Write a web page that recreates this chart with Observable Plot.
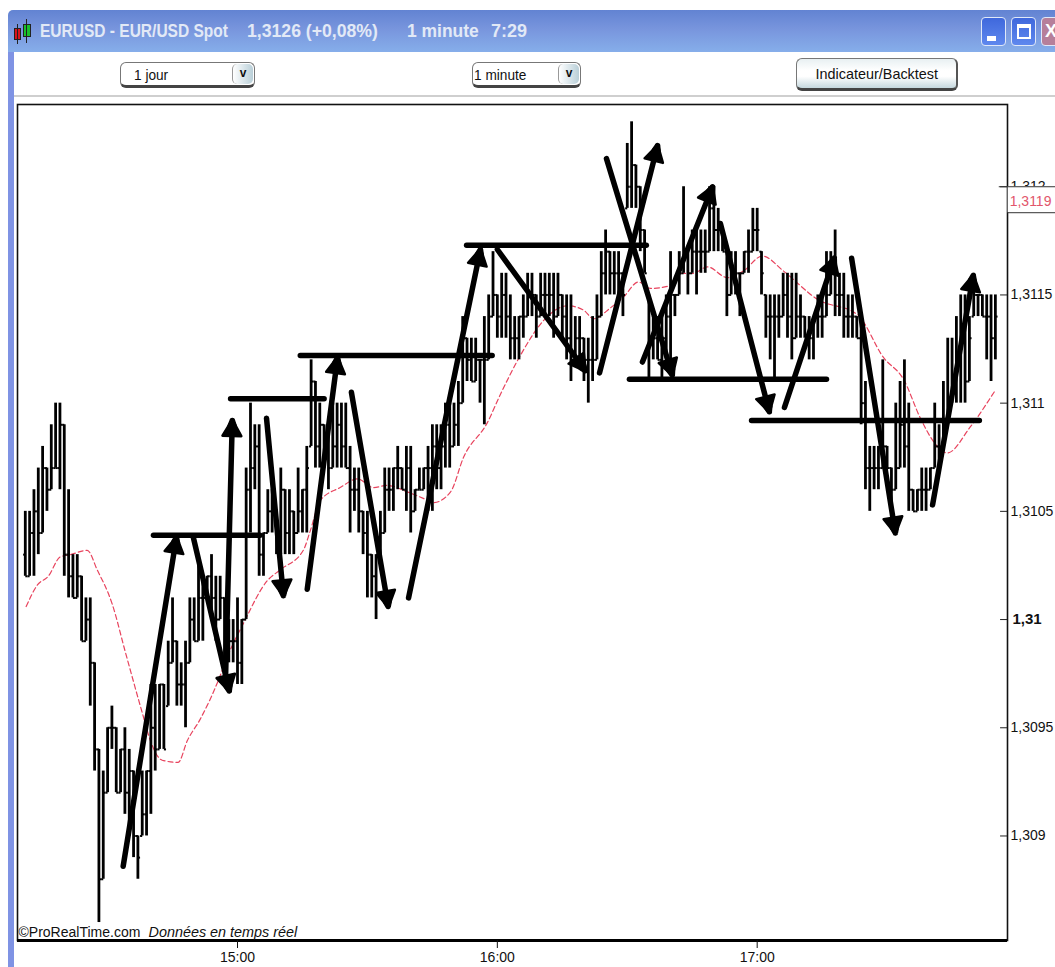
<!DOCTYPE html>
<html><head><meta charset="utf-8">
<script src="https://cdn.jsdelivr.net/npm/d3@7"></script>
<script src="https://cdn.jsdelivr.net/npm/@observablehq/plot@0.6"></script>
<style>
html,body{margin:0;padding:0;background:#fff;width:1055px;height:967px;overflow:hidden;font-family:"Liberation Sans",Arial,sans-serif}
#chrome{position:relative;height:96px;width:1055px}
.abs{position:absolute;box-sizing:border-box}
#strip{position:absolute;left:8px;top:52px;width:6px;height:915px;background:#7f93e4}
#title{left:8px;top:10px;width:1047px;height:42px;background:linear-gradient(#6283d2,#7895dd 45%,#86aeea);border-radius:5px 0 0 0}
.tt{position:absolute;top:11px;color:#e2e9f6;font:bold 18px "Liberation Sans",sans-serif;white-space:pre;transform:scaleX(.862);transform-origin:0 50%}
.wb{top:17px;height:29px;border-radius:4px;border:1px solid #dfe8f8;background:linear-gradient(#3f68dc,#5f88ee)}
.sel{top:62px;height:26px;border:1px solid #777;border-bottom:3px solid #444;border-radius:6px;background:#fff;font:15px "Liberation Sans",sans-serif;line-height:23px;color:#111}
.sel i,#btn i{font-style:normal;display:inline-block;transform:scaleX(.91);transform-origin:0 50%}
#btn i{transform:scaleX(.96);transform-origin:50% 50%}
.dd{position:absolute;right:1px;top:1px;bottom:1px;width:20px;border-radius:5px;background:linear-gradient(90deg,#fff,#b9cfd8);border-left:1px solid #999;text-align:center;font:bold 12px "Liberation Sans",sans-serif;line-height:19px}
#btn{left:796px;top:58px;width:162px;height:33px;border:1px solid #777;border-bottom:3px solid #444;border-right:2px solid #555;border-radius:6px;background:linear-gradient(#e8f0f2,#fff 40%,#fff 60%,#c5d8de);text-align:center;font:15px "Liberation Sans",sans-serif;line-height:29px;color:#111}
#sep{left:14px;top:95px;width:1041px;height:2px;background:#cfcfcf}
#chart{position:relative;width:1055px;height:871px}
#chart svg{display:block;background:transparent!important}
</style></head><body>
<div id="strip"></div>
<div id="chrome">
  <div class="abs" id="title">
    <span class="tt" style="left:32px">EURUSD - EUR/USD Spot</span>
    <span class="tt" style="left:239px;transform:scaleX(.98)">1,3126 (+0,08%)</span>
    <span class="tt" style="left:399px;transform:scaleX(.97)">1 minute</span>
    <span class="tt" style="left:483px;transform:scaleX(1)">7:29</span>
  </div>
  <div class="abs" style="left:14px;top:28px;width:7px;height:12px;background:#d8141c;border:1px solid #222"></div>
  <div class="abs" style="left:17px;top:24px;width:1px;height:20px;background:#222"></div>
  <div class="abs" style="left:23px;top:24px;width:8px;height:13px;background:#19c02a;border:1px solid #222"></div>
  <div class="abs" style="left:26px;top:19px;width:1px;height:24px;background:#222"></div>
  <div class="abs wb" style="left:981px;width:25px"><div class="abs" style="left:5px;bottom:4px;width:9px;height:5px;background:#fff"></div></div>
  <div class="abs wb" style="left:1011px;width:25px"><div class="abs" style="left:5px;top:6px;width:14px;height:15px;border:2px solid #fff;border-top-width:4px"></div></div>
  <div class="abs wb" style="left:1041px;width:20px;background:#b67f9a;color:#fff;font:bold 18px 'Liberation Sans',sans-serif;padding-left:3px;line-height:26px">X</div>
  <div class="abs sel" style="left:120px;width:135px;padding-left:13px"><i>1 jour</i><span class="dd">v</span></div>
  <div class="abs sel" style="left:472px;width:109px;padding-left:1px"><i>1 minute</i><span class="dd">v</span></div>
  <div class="abs" id="btn"><i>Indicateur/Backtest</i></div>
  <div class="abs" id="sep"></div>
</div>
<div id="chart"></div>
<script>
// Prices are read as pips from this base. Bars are one minute apart; minutes count from 15:00.
const basePrice = 1.31;
const firstMinute = -49;
const highs = [5,5,6,7,8,7,9,10,10,9, 6,3,3,2,1,1,-2,-6,-7,-5, -4,-5,-6,-5,-6,-7,-10,-7,-7,-3, -3,-3,-3,-1,1,-1,-2,-1,1,1,
 3,2,2,3,2,2,1,0,0,1, 0,7,10,9,9,4,6,6,5,7, 6,6,5,7,6,8,12,11,10,9, 9,10,10,10,10,8,7,7,5,5,
 3,3,5,7,7,7,8,7,8,8, 6,7,7,8,9,9,9,10,10,10, 11,14,13,13,13,12,14,15,17,15, 16,16,15,14,14,15,16,16,15,16,
 16,16,16,16,15,15,15,14,14,13, 13,14,15,17,18,17,17,17,16,22, 23,21,20,18,15,14,14,14,15,17, 15,17,20,17,18,18,18,18,20,20,
 19,18,17,17,17,16,17,18,19,19, 17,15,15,15,15,16,16,16,16,15, 14,14,14,15,15,17,17,18,16,16, 15,15,14,14,11,8,8,8,12,8,
 7,10,11,12,10,6,6,7,7,7, 10,9,11,13,13,14,15,15,14,16, 15,15,15,15,15];
const lows = [2,2,2,3,4,5,6,7,6,2, 1,1,1,-1,-1,-4,-7,-14,-12,-8, -6,-8,-8,-9,-10,-11,-12,-10,-10,-9, -7,-6,-6,-4,-2,-4,-4,-5,-2,-1,
 -1,-1,1,0,-1,0,-2,-2,-2,-3, -3,0,4,6,2,2,4,4,3,3, 3,3,3,4,4,4,8,7,7,7, 6,7,7,7,7,4,5,4,3,1,
 1,0,3,4,5,5,6,6,5,4, 5,6,6,5,5,6,6,7,7,8, 8,10,11,11,11,10,9,12,14,13, 13,13,12,12,12,13,14,14,13,14,
 14,14,13,14,13,12,11,12,12,11, 10,11,12,14,15,15,15,15,14,19, 19,19,17,16,11,12,12,11,12,12, 14,15,16,15,16,15,16,16,17,17,
 17,17,14,15,15,14,16,16,17,17, 15,13,12,11,13,14,13,12,13,13, 13,12,12,13,13,14,15,14,14,13, 13,13,13,9,6,5,6,6,7,7,
 5,6,7,7,5,5,5,5,5,6, 7,7,8,9,10,10,10,10,11,14, 14,14,12,11,12];
const opens = [3,2,4,5,4,7,6,7,7,9, 3,2,1,2,-1,0,-2,-6,-12,-8, -5,-5,-8,-6,-8,-7,-10,-10,-9,-7, -5,-6,-3,-4,-2,-1,-3,-3,-2,0,
 -1,1,1,2,1,0,1,-1,-1,-1, -2,0,6,7,8,3,4,5,5,4, 6,4,5,4,5,6,8,11,8,9, 8,7,8,9,8,7,6,6,5,4,
 3,2,3,4,6,6,7,7,6,7, 5,6,6,7,7,8,7,8,9,8, 9,10,13,12,11,12,12,12,14,15, 14,15,14,13,13,14,14,15,15,14,
 15,15,15,14,15,14,13,12,13,13, 12,12,12,14,16,17,16,16,16,19, 20,21,20,18,15,13,13,12,13,14, 15,15,16,17,16,17,17,17,17,19,
 18,18,17,15,16,16,16,17,17,18, 17,15,14,14,14,14,15,14,13,14, 14,13,13,14,14,14,15,16,15,15, 14,14,14,13,10,7,7,7,7,8,
 7,6,7,9,8,6,5,6,6,6, 7,8,8,9,10,11,12,13,11,14, 15,15,14,14,13];
const closes = [2,4,5,4,7,6,7,7,9,3, 2,1,2,-1,0,-2,-6,-12,-8,-5, -5,-8,-6,-8,-7,-10,-11,-9,-7,-5, -6,-3,-6,-2,-1,-3,-3,-2,0,-1,
 1,1,2,1,0,1,-1,-1,-1,-2, 0,6,7,8,3,4,5,5,4,6, 4,5,4,5,6,7,11,8,9,8, 7,8,9,8,7,6,6,5,4,3,
 2,3,4,6,6,7,7,6,7,5, 6,6,7,7,8,7,8,9,8,9, 10,13,12,11,12,12,12,14,15,14, 15,14,13,13,14,14,15,15,14,15,
 15,15,14,15,14,13,12,13,13,12, 12,12,14,16,17,16,16,16,15,20, 21,20,18,16,13,13,12,13,14,15, 15,16,17,16,17,17,17,17,19,18,
 18,17,15,16,16,16,17,17,18,18, 16,14,14,14,14,15,14,13,14,14, 13,13,14,14,14,15,16,15,15,14, 14,14,13,10,7,7,7,7,8,7,
 6,7,9,8,6,5,6,6,6,7, 8,8,9,10,11,12,13,11,13,15, 15,14,14,13,14];

const maMinutes = [-48.8,-46.2,-43.7,-40.9,-38.6,-34.7,-32.4,-28.9,-25.9,-22,-20.1,-17.4,-13.7,-11.6,-8.6,-4.4,-2.3,1.3,6.9,9.9,15.2,16.8,19.1,23.7,27.7,31.4,34.6,39.2,42.9,45.2,49.2,52.2,57.7,60.7,65.3,70.6,76.2,79.9,82.2,86.1,89.1,92.6,95.3,99.3,102.3,105.3,108.5,113.1,116.8,121.2,126.1,133.9,143.1,149.2,153.8,157.7,161.2,163.9,169.2,175];
const maPrices = [1.31006,1.31016,1.3102,1.31029,1.3103,1.31032,1.31023,1.31007,1.30985,1.30957,1.30944,1.30935,1.30934,1.30944,1.30954,1.30972,1.30983,1.30998,1.31018,1.31023,1.31032,1.31041,1.31055,1.31061,1.31065,1.31061,1.31062,1.31059,1.31056,1.31054,1.31059,1.31075,1.31091,1.31104,1.31122,1.31138,1.31145,1.31143,1.31139,1.31144,1.31149,1.31156,1.31153,1.31154,1.3116,1.3116,1.31163,1.31158,1.31161,1.31168,1.31161,1.31148,1.31141,1.31121,1.31111,1.31093,1.31081,1.31077,1.31089,1.31106];

const arrowX1 = [-26.4,-10.2,-2.8,6.7,16.1,26.3,39.5,60,83.6,85.2,93.5,111.5,126.3,141.8,160.5];
const arrowY1 = [1.30886,1.31038,1.3097,1.31093,1.31014,1.31105,1.3101,1.31171,1.31114,1.31213,1.31119,1.31183,1.31098,1.31167,1.31053];
const arrowX2 = [-14.1,-1.9,-1.2,10.6,23.1,34.8,56.1,80.3,97,100.4,109.7,122.8,137.8,151.9,169.9];
const arrowY2 = [1.31038,1.30967,1.31092,1.31011,1.31121,1.31006,1.31171,1.31115,1.31219,1.31113,1.312,1.31096,1.31167,1.3104,1.31159];

const levelX1 = [-19.4,-1.6,14.5,52.9,90.5,118.7];
const levelX2 = [5.2,20,58.8,94.4,136,171.3];
const levelY = [1.31039,1.31102,1.31122,1.31173,1.31111,1.31092];

const priceTicks = [1.309,1.3095,1.3105,1.311,1.3115,1.312];
const boldTicks = [1.31];
const timeTicks = [0,60,120];
const timeLabels = ["15:00","16:00","17:00"];
const lastPrice = "1,3119";

const xDomain = [-50.8,177.8], yDomain = [1.308517,1.31238];
const pxX = 990/(xDomain[1]-xDomain[0]), pxY = 836/(yDomain[1]-yDomain[0]); // pixels per unit, used to aim the arrow heads

const bars = highs.map((h,i)=>({m:firstMinute+i,h:basePrice+h/1e4,l:basePrice+lows[i]/1e4,o:basePrice+opens[i]/1e4,c:basePrice+closes[i]/1e4}));
const ma = maMinutes.map((m,i)=>({m,p:maPrices[i]}));
const arrows = arrowX1.map((x,i)=>{
  const x2=arrowX2[i],y1=arrowY1[i],y2=arrowY2[i];
  const dx=(x2-x)*pxX, dy=-(y2-y1)*pxY, len=Math.hypot(dx,dy), back=10/len;
  return {x1:x,y1,x2,y2,hx:x2-(x2-x)*back,hy:y2-(y2-y1)*back,angle:Math.atan2(dx,-dy)*180/Math.PI};
});
const levels = levelX1.map((x,i)=>({x1:x,x2:levelX2[i],y:levelY[i]}));
const comma = d=>String(+d.toFixed(4)).replace(".",",");
const ink = "#000";

const plot = Plot.plot({
  width:1055,height:871,
  marginLeft:17,marginRight:48,marginTop:8,marginBottom:27,
  style:{fontFamily:'"Liberation Sans",Arial,sans-serif',fontSize:"14px",color:"#111",background:"transparent",overflow:"visible"},
  x:{domain:xDomain,label:null},
  y:{domain:yDomain,label:null},
  marks:[
    Plot.frame({stroke:"#111",strokeWidth:1.6}),
    Plot.ruleY([yDomain[0]],{x1:xDomain[0],x2:xDomain[1],stroke:"#000",strokeWidth:3}),
    Plot.axisX({ticks:timeTicks,tickFormat:(d,i)=>timeLabels[timeTicks.indexOf(d)],tickSize:8,tickPadding:4,label:null,fontSize:14}),
    Plot.axisY({anchor:"right",ticks:priceTicks,tickFormat:comma,tickSize:0,tickPadding:3,label:null,fontSize:14}),
    Plot.axisY({anchor:"right",ticks:boldTicks,tickFormat:comma,tickSize:0,tickPadding:5,label:null,fontSize:15,fontWeight:"bold"}),
    Plot.ruleY(priceTicks.concat(boldTicks),{x1:176.2,x2:177.8,stroke:"#222"}),
    // price tag that hides the lower part of the 1,312 label
    Plot.rect([{x1:177.95,x2:189.5,y1:1.31188,y2:1.312}],{x1:"x1",x2:"x2",y1:"y1",y2:"y2",fill:"#fff"}),
    Plot.ruleY([1.312],{x1:175.9,x2:189.5,stroke:"#333"}),
    Plot.ruleY([1.31188],{x1:177.8,x2:189.5,stroke:"#333"}),
    Plot.text([lastPrice],{x:178.3,y:1.31193,textAnchor:"start",fill:"#e2566c",fontSize:14}),
    // red dashed moving average
    Plot.line(ma,{x:"m",y:"p",stroke:"#e8445e",strokeWidth:1.2,strokeDasharray:"5,3",curve:"monotone-x"}),
    // OHLC bars
    Plot.ruleX(bars,{x:"m",y1:"l",y2:"h",stroke:ink,strokeWidth:2.8}),
    Plot.link(bars,{x1:d=>d.m-0.5,x2:"m",y1:"o",y2:"o",stroke:ink,strokeWidth:2}),
    Plot.link(bars,{x1:"m",x2:d=>d.m+0.5,y1:"c",y2:"c",stroke:ink,strokeWidth:2}),
    // hand-drawn trend arrows and levels
    Plot.link(levels,{x1:"x1",x2:"x2",y1:"y",y2:"y",stroke:ink,strokeWidth:5.5,strokeLinecap:"round"}),
    Plot.arrow(arrows,{x1:"x1",y1:"y1",x2:"x2",y2:"y2",stroke:ink,strokeWidth:5.5,headLength:1.5,headAngle:40}),
    Plot.dot(arrows,{x:"hx",y:"hy",symbol:"triangle",r:7,rotate:"angle",fill:ink,stroke:ink,strokeWidth:2.5,strokeLinejoin:"round"}),
    Plot.text(["©ProRealTime.com"],{frameAnchor:"bottom-left",dx:1,dy:-4,fontSize:14,fill:"#111"}),
    Plot.text(["Données en temps réel"],{frameAnchor:"bottom-left",dx:131,dy:-4,fontSize:14.4,fontStyle:"italic",fill:"#111"})
  ]
});
document.getElementById("chart").appendChild(plot);
</script>
</body></html>
